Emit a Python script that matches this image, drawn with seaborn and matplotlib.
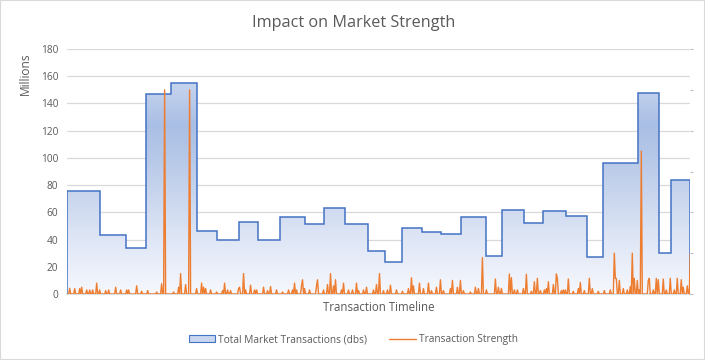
import numpy as np
import pandas as pd
import matplotlib
matplotlib.use("Agg")
import matplotlib.pyplot as plt
from matplotlib.colors import LinearSegmentedColormap
from matplotlib.patches import Rectangle, Patch
from matplotlib.lines import Line2D
import seaborn as sns

# ---------------- data ----------------
# step segments of the total market transactions (timeline day where each level starts)
seg_start = [0, 33, 59, 79, 104, 130, 150, 172, 191, 213, 238, 257, 278, 302, 319,
             336, 356, 375, 395, 420, 436, 458, 477, 500, 521, 537, 572, 593, 605]
seg_value = [76, 43, 33.5, 147, 155, 46, 40, 53, 40, 56.5, 51.5, 63, 51.5, 31.5, 23.5,
             48.5, 45.5, 44, 56.5, 28, 61.5, 52, 61, 57, 27, 96, 148, 30, 83.5]
timeline_end = 624

# transaction strength spikes (day, millions); other days ~0
spike_day = [3, 8, 13, 15, 20, 23, 26, 30, 33, 39, 42, 49, 54, 60, 62, 70, 75, 81, 90, 95,
             98, 107, 112, 114, 119, 123, 130, 135, 137, 139, 144, 150, 156, 158, 161, 164,
             172, 173, 177, 179, 184, 188, 190, 197, 201, 204, 210, 216, 222, 226, 228, 230,
             235, 236, 238, 243, 250, 251, 257, 261, 264, 267, 269, 275, 277, 282, 286, 290,
             292, 297, 300, 307, 310, 313, 317, 321, 324, 330, 336, 342, 345, 347, 353, 357,
             362, 365, 370, 374, 377, 384, 386, 391, 394, 397, 404, 409, 412, 416, 420, 429,
             432, 435, 443, 445, 448, 451, 457, 460, 465, 468, 471, 474, 478, 480, 482, 487,
             490, 491, 495, 497, 499, 502, 507, 512, 514, 518, 523, 526, 532, 538, 544, 548,
             549, 550, 553, 557, 561, 564, 566, 568, 571, 573, 575, 582, 583, 587, 590, 592,
             597, 600, 604, 608, 611, 615, 617, 621, 624]
spike_value = [4.2, 4, 4, 5, 3, 3, 3, 8, 3, 2.5, 3, 5, 3, 3, 3, 6, 2, 2.5, 1.5, 7.5,
               150, 1.5, 5, 15, 7, 150, 4, 8, 5, 4, 3, 1.5, 2.5, 8, 3, 2.5,
               4, 5, 15, 3, 6.5, 3, 3, 5, 2.5, 5.5, 3, 1.5, 3, 3, 8, 3,
               6, 10.5, 4, 3, 6, 10.5, 3, 7, 15, 6, 10.5, 3, 8, 3, 3, 8,
               2.5, 3, 5, 3, 7, 15, 2.5, 3, 6.5, 3, 2, 4, 12, 6, 8, 4,
               8, 2.5, 5, 10.5, 2.5, 4, 10, 5, 10, 2.5, 1.5, 5, 4, 26.7, 3, 11,
               5, 4, 14.7, 12, 3, 3, 4, 14.5, 2, 9, 11.5, 2.5, 3, 4, 9, 7,
               14.7, 11.5, 2.5, 3, 3, 11, 2, 4, 8.5, 2.5, 11.5, 4, 2, 2.5, 3, 30,
               11.5, 11.5, 10, 4, 3, 5.5, 30, 11.5, 10, 3, 105, 10, 11.5, 3, 11.5, 10.5,
               11, 3, 11.5, 3, 11.5, 10.5, 5, 6, 30]

y_ticks = [0, 20, 40, 60, 80, 100, 120, 140, 160, 180]
title = "Impact on Market Strength"
x_title = "Transaction Timeline"
y_unit = "Millions"
series_names = ["Total Market Transactions (dbs)", "Transaction Strength"]

# ---------------- build table ----------------
days = np.arange(timeline_end + 1)
lengths = np.diff(seg_start + [timeline_end + 1])
total = np.repeat(seg_value, lengths)
strength = np.zeros(len(days))
strength[spike_day] = spike_value
df = pd.DataFrame({"day": days, "total": total, "strength": strength})

# ---------------- style ----------------
sns.set_theme(style="white")
plt.rcParams["font.family"] = ["Open Sans", "DejaVu Sans"]

BLUE = "#4472c4"
ORANGE = "#ed7d31"
GRAY = "#595959"
GRID = "#d9d9d9"

fig = plt.figure(figsize=(7.05, 3.6), dpi=100)
ax = fig.add_axes([0.0946, 0.1833, 0.8845, 0.6806])

# area path (used for gradient clipping)
edges_x = seg_start + [timeline_end]
edges_y = seg_value + [seg_value[-1]]
poly = ax.fill_between(edges_x, edges_y, 0, step="post", facecolor="none",
                       edgecolor="none", zorder=1)

cmap = LinearSegmentedColormap.from_list(
    "grad", [(0.0, "#f6f8fd"), (0.3, "#dbe3f4"), (0.62, "#b9cae9"),
             (0.8, "#aabfe5"), (1.0, "#c6d4ee")])
grad = np.linspace(0, 1, 256).reshape(-1, 1)
im = ax.imshow(grad, cmap=cmap, origin="lower", aspect="auto",
               extent=(0, timeline_end, 0, max(seg_value)), zorder=1,
               interpolation="bilinear")
im.set_clip_path(poly.get_paths()[0], transform=ax.transData)

# outline with vertical ends
ox = [0]
oy = [0]
for i, v in enumerate(seg_value):
    ox += [edges_x[i], edges_x[i + 1]]
    oy += [v, v]
ox += [timeline_end]
oy += [0]
ax.plot(ox, oy, color=BLUE, lw=1.1, zorder=3, solid_joinstyle="miter")

sns.lineplot(data=df, x="day", y="strength", color=ORANGE, lw=1.0,
             estimator=None, ax=ax, zorder=4)

ax.set_xlim(0, timeline_end)
ax.set_ylim(0, 180)
ax.set_yticks(y_ticks)
ax.set_xticks([])
ax.yaxis.grid(True, color=GRID, lw=0.9)
ax.set_axisbelow(True)
for s in ["top", "right", "left"]:
    ax.spines[s].set_visible(False)
ax.spines["bottom"].set_color(GRID)
ax.tick_params(axis="y", length=0, labelsize=7.3, labelcolor=GRAY, pad=6)
ax.set_xlabel(x_title, fontsize=8.3, color=GRAY, labelpad=5)
ax.set_ylabel("")

# secondary axis tick marks (no labels)
ax2 = ax.twinx()
ax2.set_ylim(0, 180)
ax2.set_yticks(range(0, 181, 30))
ax2.tick_params(axis="y", length=2, color="#bfbfbf", labelright=False, width=0.8)
for s in ax2.spines.values():
    s.set_visible(False)

fig.text(0.501, 0.937, title, ha="center", va="center", fontsize=11.7, color=GRAY)
fig.text(0.036, 0.853, y_unit, rotation=90, ha="center", va="top",
         fontsize=8.6, color=GRAY)

# legend
handles = [Patch(facecolor="#c9d6ef", edgecolor=BLUE, lw=0.8),
           Line2D([0], [0], color=ORANGE, lw=1.0)]
fig.legend(handles, series_names, loc="center", bbox_to_anchor=(0.501, 0.056),
           ncol=2, frameon=False, fontsize=7.3, handlelength=2.6, handleheight=0.7,
           columnspacing=2.2, handletextpad=0.3, labelcolor=GRAY)

fig.patches.append(Rectangle((0, 0), 1, 1, transform=fig.transFigure, fill=False,
                             edgecolor="#d9d9d9", lw=1.5))

fig.savefig("out.png", dpi=100)
